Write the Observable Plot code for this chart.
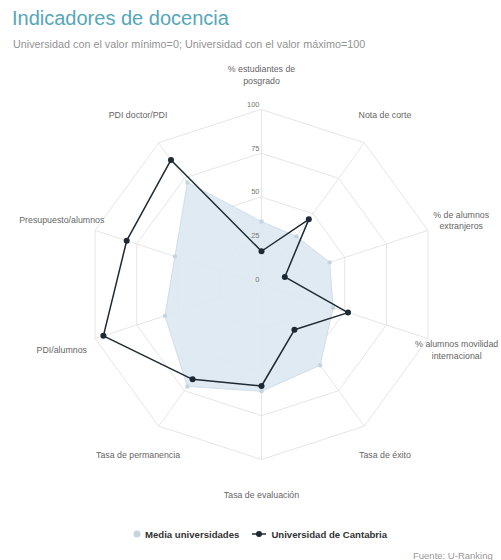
<!DOCTYPE html>
<html>
<head>
<meta charset="utf-8">
<script src="https://cdn.jsdelivr.net/npm/d3@7"></script>
<script src="https://cdn.jsdelivr.net/npm/@observablehq/plot@0.6"></script>
<style>
  html, body { margin: 0; padding: 0; background: #fff; overflow: hidden; }
  body { font-family: "Liberation Sans", Arial, sans-serif; }
  #wrap { position: relative; width: 501px; height: 560px; overflow: hidden; }
  #title { position: absolute; left: 12px; top: 7px; font-size: 20px; color: #55a7b8; white-space: nowrap; }
  #subtitle { position: absolute; left: 13px; top: 38px; font-size: 10.8px; color: #939393; white-space: nowrap; }
  #chart { position: absolute; left: 0; top: 55px; }
  #legend { position: absolute; left: 131px; top: 528px; display: flex; align-items: center; font-size: 9.6px; font-weight: bold; color: #333; white-space: nowrap; }
  #legend .item { display: flex; align-items: center; margin-right: 12px; }
  #credit { position: absolute; left: 413px; top: 550px; font-size: 9.5px; color: #999; white-space: nowrap; }
</style>
</head>
<body>
<div id="wrap">
  <div id="title">Indicadores de docencia</div>
  <div id="subtitle">Universidad con el valor mínimo=0; Universidad con el valor máximo=100</div>
  <div id="chart"></div>
  <div id="legend"></div>
  <div id="credit">Fuente: U-Ranking</div>
</div>
<script>
// ---- data ----
const categories = [
  "% estudiantes de\nposgrado",
  "Nota de corte",
  "% de alumnos\nextranjeros",
  "% alumnos movilidad\ninternacional",
  "Tasa de éxito",
  "Tasa de evaluación",
  "Tasa de permanencia",
  "PDI/alumnos",
  "Presupuesto/alumnos",
  "PDI doctor/PDI"
];
const mediaUniversidades = [36, 34, 41, 43, 57, 61, 72, 58, 52, 72];
const universidadCantabria = [19, 46, 14, 52, 32, 58, 67, 95, 81, 88];
const radialTicks = [0, 25, 50, 75, 100];
const seriesNames = ["Media universidades", "Universidad de Cantabria"];

// ---- geometry helpers (polar -> cartesian in data units) ----
const n = categories.length;
const ang = i => i * 2 * Math.PI / n;
const px = (v, i) => v * Math.sin(ang(i));
const py = (v, i) => v * Math.cos(ang(i));

const idx = d3.range(n);
const ringData = radialTicks.filter(t => t > 0).flatMap(t => idx.map(i => ({t, i})));
const meanData = mediaUniversidades.map((v, i) => ({v, i}));
const cantData = universidadCantabria.map((v, i) => ({v, i}));
const labelRadius = 120;

const dark = "#1d2a33";

const plot = Plot.plot({
  width: 501,
  height: 460,
  margin: 0,
  style: {background: "transparent", fontFamily: "'Liberation Sans', Arial, sans-serif"},
  x: {domain: [-100, 100], range: [86, 436], axis: null},
  y: {domain: [-100, 100], range: [404, 54], axis: null},
  marks: [
    // grid polygons
    Plot.line(ringData, {
      x: d => px(d.t, d.i), y: d => py(d.t, d.i), z: "t",
      curve: "linear-closed", stroke: "#e6e6e6", strokeWidth: 1
    }),
    // spokes
    Plot.link(idx, {
      x1: 0, y1: 0, x2: i => px(100, i), y2: i => py(100, i),
      stroke: "#e6e6e6", strokeWidth: 1
    }),
    // media universidades area
    Plot.line(meanData, {
      x: d => px(d.v, d.i), y: d => py(d.v, d.i),
      curve: "linear-closed", fill: "#dce8f1", fillOpacity: 0.9, stroke: "#cfdfea", strokeWidth: 1
    }),
    Plot.dot(meanData, {
      x: d => px(d.v, d.i), y: d => py(d.v, d.i),
      r: 2.2, fill: "#c5d5e0"
    }),
    // radial tick labels
    Plot.text(radialTicks, {
      x: 0, y: d => d, text: d => String(d),
      dx: -2, dy: -5, textAnchor: "end", fontSize: 7.5, fill: "#777"
    }),
    // Universidad de Cantabria
    Plot.line(cantData, {
      x: d => px(d.v, d.i), y: d => py(d.v, d.i),
      curve: "linear-closed", stroke: dark, strokeWidth: 1.5
    }),
    Plot.dot(cantData, {
      x: d => px(d.v, d.i), y: d => py(d.v, d.i),
      r: 3, fill: dark
    }),
    // category labels
    Plot.text(idx, {
      x: i => px(labelRadius, i) - (i === 3 ? 2.6 : 0), y: i => py(labelRadius, i),
      text: i => categories[i], fontSize: 8.8, fill: "#666", lineHeight: 1.3
    })
  ]
});
document.getElementById("chart").appendChild(plot);

// ---- legend ----
const legend = document.getElementById("legend");
legend.innerHTML = `
  <div class="item">
    <svg width="14" height="12"><circle cx="6" cy="6" r="3.5" fill="#c5d5e0"/></svg>
    <span>${seriesNames[0]}</span>
  </div>
  <div class="item">
    <svg width="18" height="12"><line x1="1" y1="6" x2="15" y2="6" stroke="${dark}" stroke-width="1.5"/><circle cx="8" cy="6" r="3" fill="${dark}"/></svg>
    <span style="margin-left:2px">${seriesNames[1]}</span>
  </div>`;
</script>
</body>
</html>
